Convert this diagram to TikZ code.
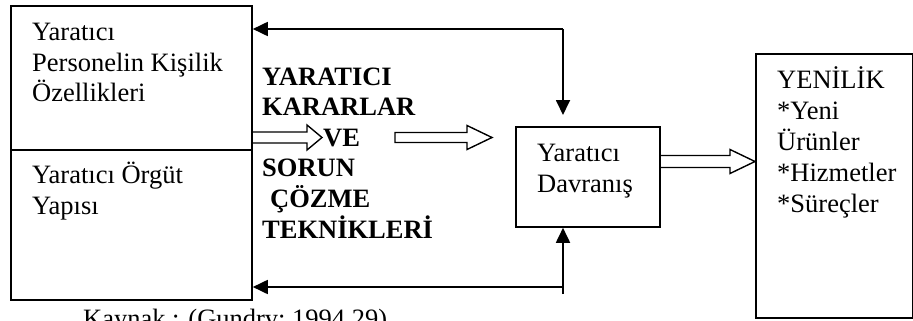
\documentclass[tikz,border=0pt]{standalone}
\usepackage{fontspec}
\setmainfont{Liberation Serif}
\usetikzlibrary{arrows.meta}
\begin{document}
\begin{tikzpicture}[x=1pt,y=-1pt,
  box/.style={draw,line width=1.8pt,inner sep=0pt,anchor=north west},
  txt/.style={font=\fontsize{26.5}{31}\selectfont,inner sep=0pt,anchor=base west,align=left},
  btxt/.style={txt,font=\fontsize{26.5}{30.6}\selectfont\bfseries},
  fb/.style={line width=1.8pt,-{Triangle[length=15pt,width=14pt]}},
  hollow/.style={draw,line width=1.4pt,line join=miter}]
\useasboundingbox (0,0) rectangle (913,321);
% boxes
\node[box,minimum width=241pt,minimum height=144pt] (ltop) at (10,5) {};
\node[box,minimum width=241pt,minimum height=150pt] (lbot) at (10,149) {};
\node[box,minimum width=144pt,minimum height=100pt] (davr) at (515,126) {};
\node[box,minimum width=157pt,minimum height=264pt] (yen) at (755,53) {};
% texts (anchored at the baseline of the last line)
\node[txt] (t1) at (32,102) {Yaratıcı\\Personelin Kişilik\\Özellikleri};
\node[txt] (t2) at (32,214) {Yaratıcı Örgüt\\Yapısı};
\node[btxt] (t3) at (262,238) {YARATICI\\KARARLAR\\\hspace*{61pt}VE\\SORUN\\\hspace*{8pt}ÇÖZME\\TEKNİKLERİ};
\node[txt] (t4) at (537,192) {Yaratıcı\\Davranış};
\node[txt] (t5) at (777,212) {YENİLİK\\*Yeni\\Ürünler\\*Hizmetler\\*Süreçler};
\node[txt] (cap) at (83,327) {Kaynak : (Gundry; 1994,29).};
% feedback connectors
\coordinate (c1) at (563,29);
\draw[fb] (c1) -- (c1 -| ltop.east);
\draw[fb,shorten >=11pt] (c1) -- (c1 |- davr.north);
\coordinate (c2) at (563,294);
\coordinate (c3) at (563,287);
\draw[fb] (c2) -- (c2 |- davr.south);
\draw[fb] (c3) -- (c3 -| lbot.east);
% hollow arrows
\draw[hollow] (ltop.east |- 0,132) -- (307,132) -- (307,125) -- (322,137.5) -- (307,150) -- (307,143) -- (ltop.east |- 0,143);
\draw[hollow] (395,132.5) -- (467,132.5) -- (467,125.5) -- (492,137.5) -- (467,149.5) -- (467,142.5) -- (395,142.5) -- cycle;
\draw[hollow] (davr.east |- 0,155.5) -- (730,155.5) -- (730,149.5) -- (yen.west |- 0,161.5) -- (730,173.5) -- (730,167.5) -- (davr.east |- 0,167.5);
\end{tikzpicture}
\end{document}
